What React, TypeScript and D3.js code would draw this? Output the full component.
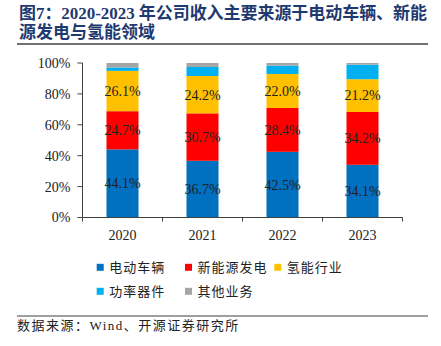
import React from "react";
import * as d3 from "d3";

const years = ["2020", "2021", "2022", "2023"];
const seriesNames = ["电动车辆", "新能源发电", "氢能行业", "功率器件", "其他业务"];
const seriesColors = ["#0070C0", "#FF0000", "#FFC000", "#00B0F0", "#A5A5A5"];
const electricVehicles = [44.1, 36.7, 42.5, 34.1];
const newEnergyPower = [24.7, 30.7, 28.4, 34.2];
const hydrogen = [26.1, 24.2, 22.0, 21.2];
const powerDevices = [2.2, 5.8, 5.4, 9.4];
const otherBusiness = [2.9, 2.6, 1.7, 1.1];
const labeledSeries = [0, 1, 2];
const yTicks = [0, 20, 40, 60, 80, 100];

const titleLine1 = "图7：2020-2023 年公司收入主要来源于电动车辆、新能";
const titleLine2 = "源发电与氢能领域";
const sourceText = "数据来源：Wind、开源证券研究所";

const W = 441;
const H = 346;

export default function App() {
  const values = [electricVehicles, newEnergyPower, hydrogen, powerDevices, otherBusiness];
  const rows = years.map((y, i) => {
    const r: any = { year: y };
    seriesNames.forEach((s, k) => (r[s] = values[k][i]));
    return r;
  });
  const stacked = d3.stack().keys(seriesNames)(rows);

  const x = d3.scaleBand().domain(years).range([82.5, 402.5]).paddingInner(0.6).paddingOuter(0.3);
  const y = d3.scaleLinear().domain([0, 100]).range([217.5, 63]);
  const serif = "'Liberation Serif', 'Times New Roman', 'Noto Sans CJK SC', serif";
  const cjk = "'Noto Sans CJK SC', sans-serif";
  const axisColor = "#404040";
  const step = x.step();
  const xTicks = d3.range(years.length + 1).map((i) => 82.5 + i * step);

  const legendPos = [
    [96.7, 267.3],
    [185, 267.3],
    [274.3, 267.3],
    [96.7, 291.3],
    [185, 291.3],
  ];

  return (
    <svg width={W} height={H} style={{ position: "absolute", left: 0, top: 0, background: "#fff" }}>
      <text x={19} y={19} fontFamily={serif} fontWeight="bold" fontSize={17} fill="#1F3A70" textLength={408} lengthAdjust="spacing">
        {titleLine1}
      </text>
      <text x={19} y={38} fontFamily={serif} fontWeight="bold" fontSize={17} fill="#1F3A70" letterSpacing={0}>
        {titleLine2}
      </text>
      <line x1={17} x2={428} y1={44} y2={44} stroke="#404040" strokeWidth={1.5} />

      {stacked.map((layer, k) => (
        <g key={layer.key} fill={seriesColors[k]}>
          {layer.map((d, i) => (
            <rect
              key={i}
              x={x(years[i])}
              width={x.bandwidth()}
              y={y(d[1])}
              height={y(d[0]) - y(d[1])}
            />
          ))}
        </g>
      ))}
      {labeledSeries.map((k) =>
        stacked[k].map((d, i) => (
          <text
            key={`${k}-${i}`}
            x={(x(years[i]) as number) + x.bandwidth() / 2}
            y={y((d[0] + d[1]) / 2)}
            dy="0.35em"
            textAnchor="middle"
            fontFamily={serif}
            fontSize={14}
            fill="#222"
          >
            {values[k][i].toFixed(1)}%
          </text>
        ))
      )}

      <line x1={82.5} x2={82.5} y1={y(100)} y2={y(0)} stroke={axisColor} strokeWidth={1} />
      {yTicks.map((t) => (
        <g key={t}>
          <line x1={77.5} x2={82.5} y1={y(t)} y2={y(t)} stroke={axisColor} />
          <text x={70.5} y={y(t)} dy="0.35em" textAnchor="end" fontFamily={serif} fontSize={14} fill="#222">
            {t}%
          </text>
        </g>
      ))}
      <line x1={82.5} x2={402.5} y1={y(0)} y2={y(0)} stroke={axisColor} strokeWidth={1} />
      {xTicks.map((t, i) => (
        <line key={i} x1={t} x2={t} y1={y(0)} y2={y(0) + 4} stroke={axisColor} />
      ))}
      {years.map((yr) => (
        <text
          key={yr}
          x={(x(yr) as number) + x.bandwidth() / 2}
          y={240}
          textAnchor="middle"
          fontFamily={serif}
          fontSize={14}
          fill="#222"
        >
          {yr}
        </text>
      ))}

      {seriesNames.map((s, k) => (
        <g key={s}>
          <rect x={legendPos[k][0]} y={legendPos[k][1] - 3.5} width={7} height={7} fill={seriesColors[k]} />
          <text
            x={legendPos[k][0] + 12.5}
            y={legendPos[k][1]}
            dy="0.36em"
            fontFamily={cjk}
            fontSize={13}
            letterSpacing={1}
            fill="#222"
          >
            {s}
          </text>
        </g>
      ))}

      <line x1={17} x2={428} y1={316} y2={316} stroke="#404040" strokeWidth={1.2} />
      <text x={17} y={330} fontFamily={serif} fontSize={13} fill="#222" letterSpacing={1.5}>
        {sourceText}
      </text>
    </svg>
  );
}
